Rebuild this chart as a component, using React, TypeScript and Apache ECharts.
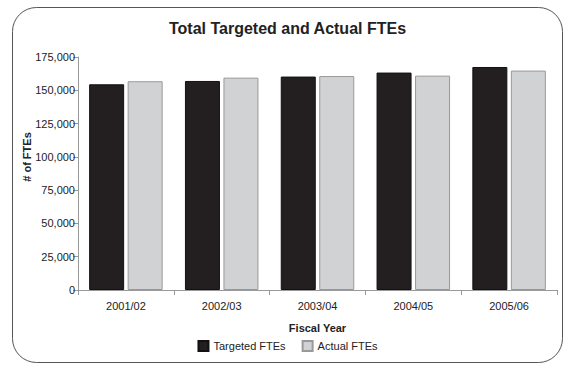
import React, { useEffect, useRef } from "react";
import * as echarts from "echarts";

const categories = ["2001/02", "2002/03", "2003/04", "2004/05", "2005/06"];
const targeted = [154500, 157000, 160300, 163300, 167500];
const actual = [156800, 159500, 160700, 161000, 164800];

export default function App() {
  const ref = useRef<HTMLDivElement>(null);
  useEffect(() => {
    if (!ref.current) return;
    const chart = echarts.init(ref.current, undefined, { renderer: "svg" });
    const font = "Liberation Sans, Arial, sans-serif";
    chart.setOption({
      animation: false,
      backgroundColor: "#ffffff",
      textStyle: { fontFamily: font },
      title: {
        text: "Total Targeted and Actual FTEs",
        left: "center",
        top: 15,
        textStyle: { fontSize: 16, fontWeight: "bold", color: "#222", fontFamily: font },
      },
      legend: {
        bottom: 16,
        left: "center",
        icon: "rect",
        itemWidth: 10,
        itemHeight: 10,
        itemGap: 16,
        textStyle: { fontSize: 11, color: "#222", fontFamily: font },
        data: ["Targeted FTEs", "Actual FTEs"],
      },
      grid: { left: 78, right: 18, top: 57, bottom: 83 },
      xAxis: {
        type: "category",
        data: categories,
        name: "Fiscal Year",
        nameLocation: "middle",
        nameGap: 32,
        nameTextStyle: { fontSize: 11, fontWeight: "bold", color: "#222", fontFamily: font },
        axisLine: { lineStyle: { color: "#999", width: 1 } },
        axisTick: { show: true, length: 5, alignWithLabel: false, lineStyle: { color: "#999" } },
        axisLabel: { fontSize: 11, color: "#222", margin: 10, fontFamily: font },
      },
      yAxis: {
        type: "value",
        min: 0,
        max: 175000,
        interval: 25000,
        axisLine: { show: true, lineStyle: { color: "#999", width: 1 } },
        axisTick: { show: true, length: 5, lineStyle: { color: "#999" } },
        splitLine: { show: false },
        axisLabel: {
          fontSize: 11,
          color: "#222",
          margin: 3,
          fontFamily: font,
          formatter: (v: number) => v.toLocaleString("en-US"),
        },
      },
      series: [
        {
          name: "Targeted FTEs",
          type: "bar",
          data: targeted,
          barWidth: 35,
          barGap: "10%",
          itemStyle: { color: "#231f20", borderColor: "#111", borderWidth: 1 },
        },
        {
          name: "Actual FTEs",
          type: "bar",
          data: actual,
          barWidth: 35,
          itemStyle: { color: "#d1d2d4", borderColor: "#999", borderWidth: 1 },
        },
      ],
      graphic: [
        {
          type: "rect",
          shape: { x: 12.5, y: 7.5, width: 550, height: 355, r: 24 },
          style: { fill: "none", stroke: "#555", lineWidth: 1 },
          silent: true,
          z: -1,
        },
        {
          type: "text",
          x: 27,
          y: 157,
          rotation: Math.PI / 2,
          style: {
            text: "# of FTEs",
            fontSize: 11,
            fontWeight: "bold",
            fill: "#222",
            fontFamily: font,
            align: "center",
            verticalAlign: "middle",
          },
        },
      ],
    });
    return () => chart.dispose();
  }, []);
  return (
    <div
      ref={ref}
      style={{ position: "absolute", left: 0, top: 0, width: 575, height: 373 }}
    />
  );
}
